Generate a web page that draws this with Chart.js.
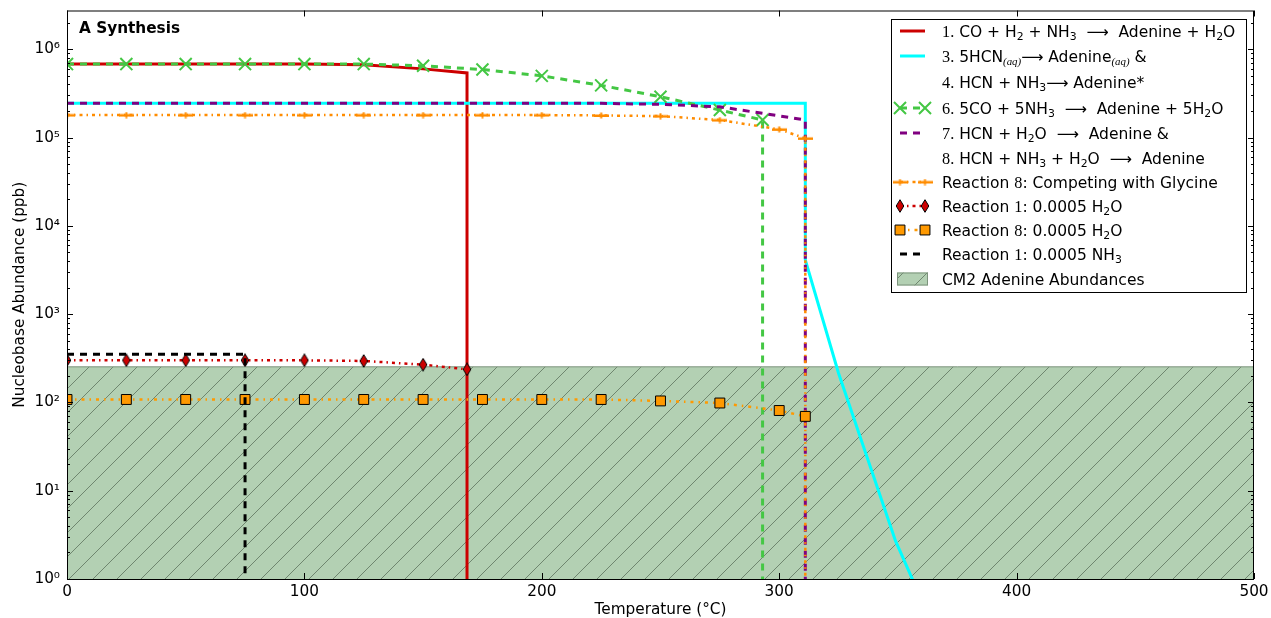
<!DOCTYPE html>
<html>
<head>
<meta charset="utf-8">
<script src="https://cdn.jsdelivr.net/npm/chart.js@4.4.1/dist/chart.umd.min.js"></script>
<style>
  html, body { margin: 0; padding: 0; background: #ffffff; }
  canvas { display: block; }
</style>
</head>
<body>
<canvas id="c" width="1271" height="618"></canvas>
<script>
// ---- Axis ticks ----
const xTickValues = [0, 100, 200, 300, 400, 500];
const yTickExponents = [0, 1, 2, 3, 4, 5, 6];

// ---- Series (temperature in deg C, abundance in ppb) ----
// 1. CO + H2 + NH3 -> Adenine + H2O
const r1Temp  = [0, 25, 50, 75, 100, 125, 150, 168.5, 168.5];
const r1Abund = [6.8e5, 6.8e5, 6.8e5, 6.8e5, 6.8e5, 6.7e5, 6.0e5, 5.4e5, 1e-3];

// 3. 5HCN(aq) -> Adenine(aq)  &  4. HCN + NH3 -> Adenine*
const r3Temp  = [0, 50, 100, 150, 200, 250, 300, 311, 311, 325, 349, 375];
const r3Abund = [2.44e5, 2.44e5, 2.44e5, 2.44e5, 2.44e5, 2.44e5, 2.44e5, 2.44e5, 4100, 214, 2.7, 0.07];

// 6. 5CO + 5NH3 -> Adenine + 5H2O
const r6Temp  = [0, 25, 50, 75, 100, 125, 150, 175, 200, 225, 250, 275, 293, 293];
const r6Abund = [6.8e5, 6.8e5, 6.8e5, 6.8e5, 6.8e5, 6.8e5, 6.5e5, 5.9e5, 5.0e5, 3.9e5, 2.9e5, 2.05e5, 1.58e5, 1e-3];

// 7. HCN + H2O -> Adenine  &  8. HCN + NH3 + H2O -> Adenine
const r7Temp  = [0, 25, 50, 75, 100, 125, 150, 175, 200, 225, 250, 275, 300, 311, 311];
const r7Abund = [2.44e5, 2.44e5, 2.44e5, 2.44e5, 2.44e5, 2.44e5, 2.44e5, 2.44e5, 2.44e5, 2.44e5, 2.38e5, 2.23e5, 1.76e5, 1.58e5, 1e-3];

// Reaction 8 competing with glycine
const glyTemp  = [0, 25, 50, 75, 100, 125, 150, 175, 200, 225, 250, 275, 300, 311, 311];
const glyAbund = [1.8e5, 1.8e5, 1.8e5, 1.8e5, 1.8e5, 1.8e5, 1.8e5, 1.8e5, 1.8e5, 1.78e5, 1.75e5, 1.58e5, 1.24e5, 9.8e4, 1e-3];

// Reaction 1 with 0.0005 H2O
const r1wTemp  = [0, 25, 50, 75, 100, 125, 150, 168.5];
const r1wAbund = [300, 300, 300, 300, 300, 295, 268, 237];

// Reaction 8 with 0.0005 H2O
const r8wTemp  = [0, 25, 50, 75, 100, 125, 150, 175, 200, 225, 250, 275, 300, 311];
const r8wAbund = [108, 108, 108, 108, 108, 108, 108, 108, 108, 108, 104, 98.5, 81, 69.5];

// Reaction 1 with 0.0005 NH3
const r1nTemp  = [0, 25, 50, 75, 75];
const r1nAbund = [351, 351, 351, 351, 1e-3];

// CM2 chondrite adenine abundance band (upper bound)
const cm2Temp  = [0, 500];
const cm2Abund = [253, 253];

const Y_MAX = 2.75e6;
const FONT = '"DejaVu Sans", sans-serif';
const MATH = '"Liberation Serif", "DejaVu Serif", serif';
const FS = 15.3;
const LFS = 15.5;

const pts = (xs, ys) => xs.map((x, i) => ({ x: x, y: ys[i] }));
const markerAt = r => (c => (c.raw && c.raw.y < 1) ? 0 : r);

// hatched fill for the CM2 band
const HATCH_FILL = '#b3d0b3';
const HATCH_EDGE = '#7c937c';
function makeHatch(size) {
  const t = document.createElement('canvas');
  t.width = size; t.height = size;
  const g = t.getContext('2d');
  g.fillStyle = HATCH_FILL;
  g.fillRect(0, 0, size, size);
  g.strokeStyle = 'rgba(90,110,90,0.85)';
  g.lineWidth = 0.9;
  for (const o of [-size, 0, size]) {
    g.beginPath();
    g.moveTo(o - 1, size + 1);
    g.lineTo(o + size + 1, -1);
    g.stroke();
  }
  return document.getElementById('c').getContext('2d').createPattern(t, 'repeat');
}
const hatch = makeHatch(24);

// thin diamond marker
function makeDiamond() {
  const w = 10, h = 14;
  const t = document.createElement('canvas');
  t.width = w; t.height = h;
  const g = t.getContext('2d');
  g.beginPath();
  g.moveTo(w / 2, 0.7); g.lineTo(w - 1.2, h / 2); g.lineTo(w / 2, h - 0.7); g.lineTo(1.2, h / 2);
  g.closePath();
  g.fillStyle = '#cc0000'; g.fill();
  g.strokeStyle = '#000'; g.lineWidth = 1; g.stroke();
  return t;
}
const diamond = makeDiamond();

// short horizontal bar with a small centre tick
function makeBar(color) {
  const w = 15, h = 7;
  const t = document.createElement('canvas');
  t.width = w; t.height = h;
  const g = t.getContext('2d');
  g.fillStyle = color;
  g.fillRect(0, 2.5, w, 2.5);
  g.fillRect(6.5, 0.5, 2, 6);
  return t;
}
const bar = makeBar('#ff8c00');

const datasets = [
  { label: 'r1', data: pts(r1Temp, r1Abund), borderColor: '#cc0000', borderWidth: 3,
    pointRadius: 0 },
  { label: 'r3', data: pts(r3Temp, r3Abund), borderColor: '#00ffff', borderWidth: 3,
    pointRadius: 0 },
  { label: 'r6', data: pts(r6Temp, r6Abund), borderColor: '#44c744', borderWidth: 3,
    borderDash: [7, 6], pointStyle: 'crossRot', pointRadius: markerAt(8.5), markerRadius: 8.5,
    pointBorderColor: '#44c744', pointBackgroundColor: '#44c744', pointBorderWidth: 2 },
  { label: 'r7', data: pts(r7Temp, r7Abund), borderColor: '#800080', borderWidth: 3,
    borderDash: [7, 6], pointRadius: 0 },
  { label: 'gly', data: pts(glyTemp, glyAbund), borderColor: '#ff8c00', borderWidth: 2.5,
    borderDash: [3, 4, 1.5, 4], pointStyle: bar, pointRadius: markerAt(6.5), markerRadius: 6.5,
    pointBorderColor: '#ff8c00', pointBackgroundColor: '#ff8c00', pointBorderWidth: 2.5 },
  { label: 'r1w', data: pts(r1wTemp, r1wAbund), borderColor: '#cc0000', borderWidth: 2.5,
    borderDash: [3, 4, 1.5, 4], pointStyle: diamond, pointRadius: 7, markerRadius: 7,
    pointBorderColor: '#000', pointBackgroundColor: '#cc0000', pointBorderWidth: 1 },
  { label: 'r8w', data: pts(r8wTemp, r8wAbund), borderColor: '#ff9900', borderWidth: 2.5,
    borderDash: [3, 5, 1.5, 5], pointStyle: 'rect', pointRadius: 7, markerRadius: 7,
    pointBorderColor: '#000', pointBackgroundColor: '#ff9900', pointBorderWidth: 1 },
  { label: 'r1n', data: pts(r1nTemp, r1nAbund), borderColor: '#000000', borderWidth: 3,
    borderDash: [7, 6], pointRadius: 0 },
  { label: 'cm2', data: pts(cm2Temp, cm2Abund), borderColor: HATCH_EDGE, borderWidth: 1,
    backgroundColor: hatch, fill: 'start', pointRadius: 0, isArea: true }
];
// later entries are drawn on top; the band goes underneath everything
datasets.forEach((d, i) => {
  d.order = d.isArea ? 100 : datasets.length - i;
  d.tension = 0;
  d.borderCapStyle = 'butt';
  if (!d.isArea) d.fill = false;
});

const legendRows = [
  { y: 31, ds: 'r1', segs: [['1.', 'm'], [' CO + H', 'n'], ['2', 's'], [' + NH', 'n'], ['3', 's'], ['  \u27F6  Adenine + H', 'n'], ['2', 's'], ['O', 'n']] },
  { y: 56, ds: 'r3', segs: [['3.', 'm'], [' 5HCN', 'n'], ['(aq)', 'i'], ['\u27F6 Adenine', 'n'], ['(aq)', 'i'], [' &', 'n']] },
  { y: 82, ds: null, segs: [['4.', 'm'], [' HCN + NH', 'n'], ['3', 's'], ['\u27F6 Adenine*', 'n']] },
  { y: 108, ds: 'r6', segs: [['6.', 'm'], [' 5CO + 5NH', 'n'], ['3', 's'], ['  \u27F6  Adenine + 5H', 'n'], ['2', 's'], ['O', 'n']] },
  { y: 133, ds: 'r7', segs: [['7.', 'm'], [' HCN + H', 'n'], ['2', 's'], ['O  \u27F6  Adenine &', 'n']] },
  { y: 158, ds: null, segs: [['8.', 'm'], [' HCN + NH', 'n'], ['3', 's'], [' + H', 'n'], ['2', 's'], ['O  \u27F6  Adenine', 'n']] },
  { y: 182, ds: 'gly', segs: [['Reaction ', 'n'], ['8', 'm'], [': Competing with Glycine', 'n']] },
  { y: 206, ds: 'r1w', segs: [['Reaction ', 'n'], ['1', 'm'], [': 0.0005 H', 'n'], ['2', 's'], ['O', 'n']] },
  { y: 230, ds: 'r8w', segs: [['Reaction ', 'n'], ['8', 'm'], [': 0.0005 H', 'n'], ['2', 's'], ['O', 'n']] },
  { y: 254, ds: 'r1n', segs: [['Reaction ', 'n'], ['1', 'm'], [': 0.0005 NH', 'n'], ['3', 's']] },
  { y: 279, ds: 'cm2', segs: [['CM2 Adenine Abundances', 'n']] }
];

function drawRich(ctx, segs, x, y, fs) {
  ctx.textBaseline = 'alphabetic';
  ctx.textAlign = 'left';
  for (const [t, k] of segs) {
    let dy = 0;
    if (k === 'n') ctx.font = fs + 'px ' + FONT;
    else if (k === 'm') ctx.font = (fs * 1.05) + 'px ' + MATH;
    else if (k === 's') { ctx.font = (fs * 0.7) + 'px ' + FONT; dy = fs * 0.22; }
    else if (k === 'i') { ctx.font = 'italic ' + (fs * 0.7) + 'px ' + MATH; dy = fs * 0.25; }
    ctx.fillText(t, x, y + dy);
    x += ctx.measureText(t).width;
  }
}

function drawHandle(ctx, ds, y) {
  const x0 = 900, x1 = 925;
  ctx.save();
  if (ds.isArea) {
    ctx.fillStyle = hatch;
    ctx.fillRect(897, y - 6.5, 31, 13);
    ctx.strokeStyle = HATCH_EDGE;
    ctx.lineWidth = 1;
    ctx.strokeRect(897.5, y - 6, 30, 12);
    ctx.restore();
    return;
  }
  ctx.strokeStyle = ds.borderColor;
  ctx.lineWidth = ds.borderWidth;
  ctx.lineCap = 'butt';
  ctx.setLineDash(ds.borderDash || []);
  ctx.beginPath(); ctx.moveTo(x0, y); ctx.lineTo(x1, y); ctx.stroke();
  ctx.setLineDash([]);
  if (ds.markerRadius) {
    for (const px of [x0, x1]) {
      ctx.fillStyle = ds.pointBackgroundColor;
      ctx.strokeStyle = ds.pointBorderColor;
      ctx.lineWidth = ds.pointBorderWidth;
      Chart.helpers.drawPoint(ctx, { pointStyle: ds.pointStyle, radius: ds.markerRadius,
        borderWidth: ds.pointBorderWidth, rotation: 0 }, px, y);
    }
  }
  ctx.restore();
}

const frame = {
  id: 'frame',
  afterDatasetsDraw(chart) {
    const { ctx, chartArea: a, scales: { x, y } } = chart;
    ctx.save();
    ctx.strokeStyle = '#000';
    ctx.lineWidth = 1;
    const seg = (x1, y1, x2, y2) => { ctx.beginPath(); ctx.moveTo(x1, y1); ctx.lineTo(x2, y2); ctx.stroke(); };
    // x ticks, bottom and top, pointing inward
    for (const v of xTickValues) {
      const px = Math.round(x.getPixelForValue(v)) + 0.5;
      seg(px, a.bottom, px, a.bottom - 6);
      seg(px, a.top, px, a.top + 6);
    }
    // log y ticks, left and right
    for (const e of yTickExponents) {
      for (let m = 1; m <= 9; m++) {
        const v = m * Math.pow(10, e);
        if (v > Y_MAX) continue;
        const py = Math.round(y.getPixelForValue(v)) + 0.5;
        const len = m === 1 ? 6 : 3;
        seg(a.left, py, a.left + len, py);
        seg(a.right, py, a.right - len, py);
      }
    }
    ctx.strokeRect(a.left + 0.5, a.top + 0.5, a.right - a.left - 1, a.bottom - a.top);
    ctx.restore();
  },
  afterDraw(chart) {
    const { ctx, chartArea: a } = chart;
    ctx.save();
    // panel label
    ctx.fillStyle = '#000';
    ctx.font = 'bold ' + FS + 'px ' + FONT;
    ctx.textBaseline = 'alphabetic';
    ctx.textAlign = 'left';
    ctx.fillText('A Synthesis', a.left + 12, 33);
    // legend
    ctx.fillStyle = '#fff';
    ctx.fillRect(891, 19, 356, 274);
    ctx.strokeStyle = '#000';
    ctx.lineWidth = 1;
    ctx.strokeRect(891.5, 19.5, 355, 273);
    for (const row of legendRows) {
      if (row.ds) drawHandle(ctx, chart.data.datasets.find(d => d.label === row.ds), row.y);
      ctx.fillStyle = '#000';
      drawRich(ctx, row.segs, 942, row.y + 5.5, LFS);
    }
    ctx.restore();
  }
};

const SUP = { '0': '\u2070', '1': '\u00B9', '2': '\u00B2', '3': '\u00B3', '4': '\u2074', '5': '\u2075', '6': '\u2076' };

Chart.defaults.font.family = FONT;
Chart.defaults.color = '#000';

new Chart(document.getElementById('c'), {
  type: 'line',
  data: { datasets: datasets },
  plugins: [frame],
  options: {
    responsive: false,
    animation: false,
    devicePixelRatio: 1,
    layout: { padding: { top: 10, right: 17, bottom: 0, left: 0 } },
    plugins: { legend: { display: false }, tooltip: { enabled: false }, title: { display: false } },
    elements: { line: { tension: 0 } },
    scales: {
      x: {
        type: 'linear', min: 0, max: 500,
        grid: { display: false, drawTicks: false },
        border: { display: false },
        afterBuildTicks: s => { s.ticks = xTickValues.map(v => ({ value: v })); },
        ticks: { padding: 3.5, autoSkip: false, maxRotation: 0, color: '#000', font: { size: FS, family: FONT } },
        title: { display: true, text: 'Temperature (\u00B0C)', color: '#000',
          font: { size: FS, family: FONT, lineHeight: 1 }, padding: { top: 0, bottom: 0 } },
        afterFit: s => { s.height = 39; s.paddingLeft = 0; s.paddingRight = 0; }
      },
      y: {
        type: 'logarithmic', min: 1, max: Y_MAX,
        grid: { display: false, drawTicks: false },
        border: { display: false },
        afterBuildTicks: s => { s.ticks = yTickExponents.map(e => ({ value: Math.pow(10, e) })); },
        ticks: {
          padding: 7, autoSkip: false, color: '#000', font: { size: FS, family: FONT },
          callback: v => {
            const e = Math.round(Math.log10(v));
            return '10' + String(e).split('').map(ch => SUP[ch]).join('');
          }
        },
        title: { display: true, text: 'Nucleobase Abundance (ppb)', color: '#000',
          font: { size: FS, family: FONT, lineHeight: 1 }, padding: { top: 12.3, bottom: 0 } },
        afterFit: s => { s.width = 67; s.paddingTop = 0; s.paddingBottom = 0; }
      }
    }
  }
});
</script>
</body>
</html>
